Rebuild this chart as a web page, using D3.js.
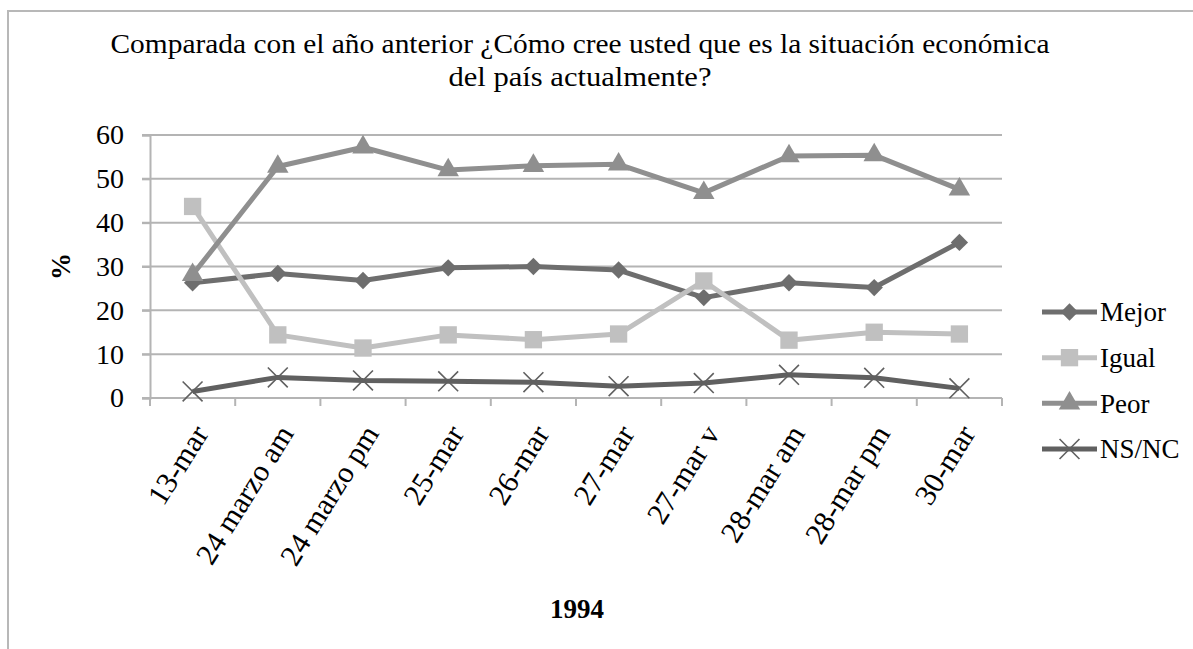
<!DOCTYPE html>
<html>

<head>
  <meta charset="utf-8">
  <title>Situación económica 1994</title>
  <style>
    body { margin: 0; background: #fff; }
  </style>
</head>

<body>
  <script src="https://d3js.org/d3.v7.min.js" charset="utf-8"></script>
  <script type="text/javascript">
    var categories = ['13-mar', '24 marzo am', '24 marzo pm', '25-mar', '26-mar', '27-mar', '27-mar v', '28-mar am', '28-mar pm', '30-mar'];
    var mejor = [26.3, 28.4, 26.8, 29.7, 30.0, 29.2, 22.9, 26.3, 25.2, 35.5];
    var igual = [43.7, 14.4, 11.4, 14.4, 13.3, 14.6, 26.7, 13.2, 15.0, 14.6];
    var peor = [28.1, 52.8, 57.2, 52.0, 53.0, 53.3, 46.8, 55.2, 55.4, 47.6];
    var nsnc = [1.5, 4.7, 4.0, 3.8, 3.6, 2.7, 3.4, 5.3, 4.6, 2.2];
    var seriesNames = ['Mejor', 'Igual', 'Peor', 'NS/NC'];
    var yTicks = [0, 10, 20, 30, 40, 50, 60];

    var svgW = 1193;
    var svgH = 649;
    var plotL = 150, plotR = 1002, plotT = 135, plotB = 398;
    var gridColor = '#b4b4b4';
    var serif = '"Liberation Serif", "Times New Roman", serif';

    var series = [
      { name: seriesNames[0], values: mejor, color: '#6e6e6e', shape: 'diamond' },
      { name: seriesNames[1], values: igual, color: '#c0c0c0', shape: 'square' },
      { name: seriesNames[2], values: peor, color: '#8f8f8f', shape: 'triangle' },
      { name: seriesNames[3], values: nsnc, color: '#606060', shape: 'x' }
    ];

    var svg = d3.select('body').append('svg')
      .attr('width', svgW).attr('height', svgH)
      .style('font-family', serif);

    // outer frame
    svg.append('rect')
      .attr('x', 8).attr('y', 11).attr('width', 1300).attr('height', 800)
      .attr('fill', 'none').attr('stroke', '#b8b8b8').attr('stroke-width', 2);

    var x = d3.scaleBand().domain(categories).range([plotL, plotR]);
    var y = d3.scaleLinear().domain([0, 60]).range([plotB, plotT]);

    // gridlines
    svg.selectAll('line.grid').data(yTicks).enter().append('line')
      .attr('class', 'grid')
      .attr('x1', plotL - 8).attr('x2', plotR)
      .attr('y1', function(d) { return y(d); })
      .attr('y2', function(d) { return y(d); })
      .attr('stroke', gridColor).attr('stroke-width', 2);

    // y axis
    var yAxis = svg.append('g').attr('transform', 'translate(' + plotL + ',0)')
      .call(d3.axisLeft(y).tickValues(yTicks).tickSize(8).tickPadding(18));
    yAxis.attr('font-family', null).attr('font-size', null);
    yAxis.select('.domain').attr('stroke', gridColor).attr('stroke-width', 2);
    yAxis.selectAll('.tick line').attr('stroke', gridColor).attr('stroke-width', 2);
    yAxis.selectAll('text').style('font-family', serif).style('font-size', '28px').attr('fill', '#000');

    // x axis: ticks on category boundaries
    var bounds = categories.map(function(c) { return x(c); }).concat([plotR]);
    svg.selectAll('line.xtick').data(bounds).enter().append('line')
      .attr('class', 'xtick')
      .attr('x1', function(d) { return d; }).attr('x2', function(d) { return d; })
      .attr('y1', plotB).attr('y2', plotB + 8)
      .attr('stroke', gridColor).attr('stroke-width', 2);
    svg.append('line')
      .attr('x1', plotL).attr('x2', plotR).attr('y1', plotB).attr('y2', plotB)
      .attr('stroke', gridColor).attr('stroke-width', 2);

    svg.selectAll('text.xlab').data(categories).enter().append('text')
      .attr('class', 'xlab')
      .attr('text-anchor', 'end')
      .attr('transform', function(d) {
        return 'translate(' + (x(d) + x.bandwidth() / 2 + 8) + ',' + (plotB + 30) + ') rotate(-58)';
      })
      .attr('dy', '0.35em')
      .style('font-size', '30px')
      .text(function(d) { return d; });

    // lines and markers
    var line = d3.line()
      .x(function(d, i) { return x(categories[i]) + x.bandwidth() / 2; })
      .y(function(d) { return y(d); });

    function markerPath(shape) {
      if (shape === 'diamond') return d3.symbol().type(d3.symbolSquare).size(150)();
      if (shape === 'square') return d3.symbol().type(d3.symbolSquare).size(300)();
      if (shape === 'triangle') return d3.symbol().type(d3.symbolTriangle).size(200)();
      return d3.symbol().type(d3.symbolX).size(260)();
    }

    function drawMarker(g, s, cx, cy) {
      var p = g.append('path')
        .attr('d', markerPath(s.shape))
        .attr('transform', 'translate(' + cx + ',' + cy + ')' + (s.shape === 'diamond' ? ' rotate(45)' : ''));
      if (s.shape === 'x') {
        p.attr('fill', 'none').attr('stroke', s.color).attr('stroke-width', 1.6);
      } else {
        p.attr('fill', s.color);
      }
    }

    series.forEach(function(s) {
      var g = svg.append('g');
      g.append('path').datum(s.values)
        .attr('d', line)
        .attr('fill', 'none')
        .attr('stroke', s.color)
        .attr('stroke-width', 5)
        .attr('stroke-linejoin', 'round');
      s.values.forEach(function(v, i) {
        drawMarker(g, s, x(categories[i]) + x.bandwidth() / 2, y(v));
      });
    });

    // legend
    var legY = d3.scalePoint().domain(seriesNames).range([312, 449]);
    series.forEach(function(s) {
      var g = svg.append('g');
      var ly = legY(s.name);
      g.append('line')
        .attr('x1', 1042).attr('x2', 1097).attr('y1', ly).attr('y2', ly)
        .attr('stroke', s.color).attr('stroke-width', 5);
      drawMarker(g, s, 1069.5, ly);
      g.append('text')
        .attr('x', 1100).attr('y', ly).attr('dy', '0.35em')
        .style('font-size', '27px')
        .text(s.name);
    });

    // titles
    svg.append('text')
      .attr('x', 580).attr('y', 53).attr('text-anchor', 'middle')
      .attr('textLength', 939).attr('lengthAdjust', 'spacingAndGlyphs')
      .style('font-size', '27px')
      .text('Comparada con el año anterior ¿Cómo cree usted que es la situación económica');
    svg.append('text')
      .attr('x', 580).attr('y', 86).attr('text-anchor', 'middle')
      .attr('textLength', 263).attr('lengthAdjust', 'spacingAndGlyphs')
      .style('font-size', '27px')
      .text('del país actualmente?');

    svg.append('text')
      .attr('transform', 'translate(70,' + ((plotT + plotB) / 2) + ') rotate(-90)')
      .attr('text-anchor', 'middle')
      .style('font-size', '27px').style('font-weight', 'bold')
      .text('%');

    svg.append('text')
      .attr('x', 577).attr('y', 618).attr('text-anchor', 'middle')
      .style('font-size', '27px').style('font-weight', 'bold')
      .text('1994');
  </script>
</body>

</html>
